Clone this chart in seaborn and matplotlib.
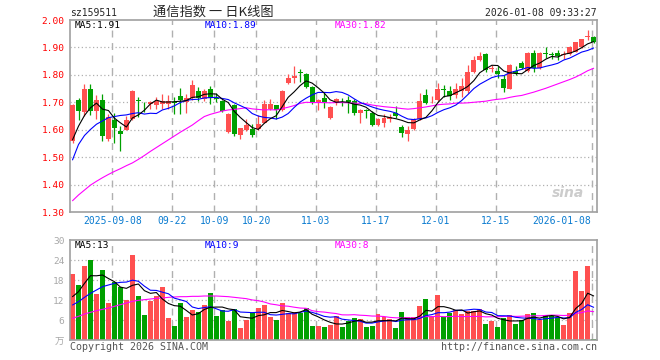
import pandas as pd
import matplotlib
matplotlib.use("Agg")
import matplotlib.pyplot as plt
import seaborn as sns

# ---------------- dados ----------------
feriados = ["2025-10-01", "2025-10-02", "2025-10-03", "2025-10-06",
            "2025-10-07", "2025-10-08", "2026-01-01", "2026-01-02"]
datas_tick = ["2025-09-08", "2025-09-22", "2025-10-09", "2025-10-20", "2025-11-03",
              "2025-11-17", "2025-12-01", "2025-12-15", "2026-01-08"]
rotulos_tick = ["2025-09-08", "09-22", "10-09", "10-20", "11-03",
                "11-17", "12-01", "12-15", "2026-01-08"]

abertura = [1.560, 1.710, 1.665, 1.748, 1.667, 1.710, 1.565, 1.636, 1.594, 1.600,
            1.640, 1.710, 1.695, 1.692, 1.690, 1.693, 1.693, 1.700, 1.723, 1.700,
            1.717, 1.741, 1.713, 1.750, 1.715, 1.705, 1.591, 1.689, 1.579, 1.600,
            1.601, 1.604, 1.626, 1.675, 1.689, 1.672, 1.772, 1.789, 1.810, 1.802,
            1.757, 1.696, 1.717, 1.644, 1.697, 1.709, 1.710, 1.703, 1.660, 1.672,
            1.662, 1.619, 1.623, 1.638, 1.662, 1.610, 1.583, 1.604, 1.638, 1.726,
            1.703, 1.708, 1.749, 1.741, 1.725, 1.740, 1.740, 1.812, 1.853, 1.875,
            1.822, 1.814, 1.786, 1.750, 1.814, 1.845, 1.814, 1.878, 1.826, 1.879,
            1.876, 1.878, 1.872, 1.875, 1.885, 1.900, 1.937, 1.939]
maxima = [1.695, 1.717, 1.766, 1.766, 1.725, 1.730, 1.656, 1.660, 1.613, 1.650,
          1.743, 1.720, 1.700, 1.705, 1.720, 1.730, 1.726, 1.720, 1.752, 1.730,
          1.782, 1.757, 1.748, 1.760, 1.733, 1.708, 1.660, 1.692, 1.607, 1.638,
          1.620, 1.652, 1.709, 1.713, 1.690, 1.745, 1.802, 1.833, 1.823, 1.808,
          1.760, 1.711, 1.733, 1.686, 1.715, 1.717, 1.724, 1.713, 1.677, 1.675,
          1.668, 1.644, 1.656, 1.656, 1.686, 1.619, 1.613, 1.644, 1.735, 1.748,
          1.722, 1.770, 1.762, 1.760, 1.770, 1.790, 1.836, 1.867, 1.882, 1.878,
          1.836, 1.833, 1.800, 1.840, 1.833, 1.850, 1.882, 1.890, 1.885, 1.902,
          1.885, 1.890, 1.888, 1.905, 1.920, 1.932, 1.964, 1.942]
minimas = [1.553, 1.635, 1.650, 1.652, 1.640, 1.558, 1.558, 1.550, 1.522, 1.598,
           1.637, 1.645, 1.665, 1.675, 1.675, 1.675, 1.675, 1.656, 1.656, 1.660,
           1.710, 1.705, 1.705, 1.694, 1.700, 1.665, 1.588, 1.577, 1.565, 1.595,
           1.574, 1.600, 1.623, 1.672, 1.638, 1.668, 1.766, 1.770, 1.774, 1.753,
           1.695, 1.672, 1.680, 1.640, 1.690, 1.686, 1.662, 1.652, 1.626, 1.644,
           1.615, 1.613, 1.610, 1.628, 1.644, 1.574, 1.559, 1.600, 1.635, 1.692,
           1.698, 1.705, 1.720, 1.710, 1.715, 1.720, 1.734, 1.808, 1.850, 1.812,
           1.810, 1.790, 1.737, 1.747, 1.800, 1.820, 1.810, 1.810, 1.820, 1.863,
           1.857, 1.853, 1.857, 1.872, 1.882, 1.897, 1.927, 1.916]
fechamento = [1.690, 1.670, 1.750, 1.667, 1.710, 1.577, 1.648, 1.606, 1.585, 1.635,
              1.740, 1.705, 1.692, 1.700, 1.705, 1.705, 1.704, 1.697, 1.708, 1.717,
              1.762, 1.717, 1.741, 1.717, 1.712, 1.668, 1.656, 1.583, 1.605, 1.616,
              1.579, 1.620, 1.693, 1.693, 1.672, 1.741, 1.790, 1.796, 1.807, 1.757,
              1.699, 1.708, 1.699, 1.683, 1.711, 1.707, 1.700, 1.662, 1.672, 1.670,
              1.619, 1.638, 1.644, 1.648, 1.650, 1.589, 1.599, 1.638, 1.705, 1.696,
              1.706, 1.750, 1.746, 1.723, 1.748, 1.760, 1.812, 1.853, 1.869, 1.817,
              1.826, 1.804, 1.753, 1.835, 1.806, 1.824, 1.878, 1.826, 1.880, 1.876,
              1.873, 1.869, 1.876, 1.900, 1.918, 1.931, 1.940, 1.918]

ma5 = [1.563, 1.613, 1.652, 1.680, 1.697, 1.675, 1.670, 1.642, 1.625, 1.610,
       1.643, 1.654, 1.671, 1.694, 1.708, 1.701, 1.701, 1.702, 1.704, 1.706,
       1.718, 1.720, 1.729, 1.731, 1.730, 1.711, 1.699, 1.667, 1.645, 1.626,
       1.608, 1.601, 1.623, 1.640, 1.651, 1.684, 1.718, 1.738, 1.761, 1.778,
       1.770, 1.753, 1.734, 1.709, 1.700, 1.702, 1.700, 1.693, 1.690, 1.682,
       1.665, 1.652, 1.649, 1.644, 1.640, 1.634, 1.626, 1.625, 1.636, 1.645,
       1.669, 1.699, 1.721, 1.724, 1.735, 1.745, 1.758, 1.779, 1.808, 1.822,
       1.835, 1.834, 1.814, 1.807, 1.805, 1.804, 1.819, 1.834, 1.843, 1.857,
       1.867, 1.865, 1.875, 1.879, 1.887, 1.899, 1.913, 1.921]
ma10 = [1.490, 1.546, 1.579, 1.601, 1.620, 1.632, 1.644, 1.648, 1.652, 1.654,
        1.659, 1.662, 1.657, 1.660, 1.659, 1.672, 1.678, 1.687, 1.699, 1.707,
        1.710, 1.711, 1.716, 1.717, 1.718, 1.714, 1.710, 1.698, 1.688, 1.678,
        1.659, 1.650, 1.645, 1.643, 1.639, 1.646, 1.659, 1.681, 1.701, 1.715,
        1.727, 1.736, 1.736, 1.735, 1.739, 1.736, 1.727, 1.713, 1.700, 1.691,
        1.683, 1.676, 1.671, 1.667, 1.661, 1.649, 1.639, 1.637, 1.640, 1.643,
        1.651, 1.663, 1.673, 1.680, 1.690, 1.707, 1.728, 1.750, 1.766, 1.778,
        1.790, 1.796, 1.797, 1.808, 1.814, 1.820, 1.827, 1.824, 1.825, 1.831,
        1.836, 1.842, 1.854, 1.861, 1.872, 1.883, 1.889, 1.898]
ma30 = [1.341, 1.362, 1.380, 1.398, 1.412, 1.425, 1.437, 1.448, 1.458, 1.469,
        1.479, 1.492, 1.506, 1.521, 1.535, 1.549, 1.563, 1.577, 1.591, 1.604,
        1.617, 1.633, 1.648, 1.656, 1.662, 1.668, 1.672, 1.674, 1.677, 1.680,
        1.676, 1.674, 1.672, 1.673, 1.672, 1.677, 1.682, 1.688, 1.696, 1.700,
        1.699, 1.699, 1.699, 1.698, 1.699, 1.699, 1.698, 1.697, 1.696, 1.695,
        1.690, 1.687, 1.684, 1.682, 1.680, 1.677, 1.675, 1.677, 1.680, 1.683,
        1.687, 1.691, 1.693, 1.694, 1.697, 1.697, 1.698, 1.700, 1.702, 1.704,
        1.708, 1.711, 1.713, 1.718, 1.722, 1.725, 1.731, 1.737, 1.744, 1.751,
        1.759, 1.767, 1.775, 1.783, 1.792, 1.803, 1.815, 1.824]

volume = [19.8, 16.5, 22.2, 24.0, 13.8, 21.0, 11.2, 17.5, 15.8, 12.0,
          25.5, 13.2, 7.5, 11.8, 13.2, 15.8, 6.5, 4.2, 11.0, 6.8,
          9.0, 8.5, 10.5, 14.2, 7.2, 9.0, 5.8, 9.2, 3.7, 6.0,
          8.0, 9.6, 10.5, 7.0, 6.0, 11.2, 8.0, 8.5, 8.2, 9.7,
          4.2, 4.2, 4.0, 4.5, 7.2, 4.0, 5.8, 6.6, 6.2, 4.0,
          4.2, 7.8, 6.8, 6.2, 3.7, 8.4, 6.8, 6.8, 10.2, 12.3,
          7.2, 13.5, 6.8, 8.0, 9.0, 7.8, 8.8, 8.8, 9.2, 4.8,
          5.8, 4.0, 6.5, 7.5, 4.8, 6.0, 7.8, 8.2, 6.0, 7.5,
          7.2, 6.5, 4.5, 8.2, 20.8, 14.8, 22.2, 0.4]
vol_ma5 = [13.0, 14.5, 17.0, 19.3, 19.26, 19.5, 18.44, 17.5, 15.86, 15.5,
           16.4, 16.8, 14.8, 14.0, 14.24, 12.3, 10.96, 10.3, 10.14, 8.86,
           7.5, 7.9, 9.16, 9.8, 9.88, 9.88, 9.34, 9.08, 6.98, 6.74,
           6.54, 7.3, 7.56, 8.22, 8.22, 8.86, 8.54, 8.14, 8.38, 9.12,
           7.72, 6.96, 6.06, 5.32, 4.82, 4.78, 5.1, 5.62, 5.96, 5.32,
           5.36, 5.76, 5.8, 5.8, 5.74, 6.58, 6.38, 6.38, 7.18, 8.9,
           8.66, 10.0, 10.0, 9.56, 8.9, 9.02, 8.08, 8.48, 8.72, 7.88,
           7.48, 6.52, 6.06, 5.72, 5.72, 5.76, 6.52, 6.86, 6.56, 7.1,
           7.34, 7.08, 6.34, 6.78, 9.44, 10.96, 14.04, 13.22]
vol_ma10 = [10.5, 11.5, 12.8, 14.0, 15.0, 16.0, 16.5, 17.0, 17.3, 17.38,
            17.95, 17.62, 16.15, 14.93, 14.87, 14.35, 13.88, 12.55, 12.07, 11.55,
            9.9, 9.43, 9.73, 9.97, 9.37, 8.69, 8.62, 9.12, 8.39, 8.31,
            8.21, 8.32, 8.32, 7.6, 7.48, 7.7, 7.92, 7.85, 8.3, 8.67,
            8.29, 7.75, 7.1, 6.85, 6.97, 6.25, 6.03, 5.84, 5.64, 5.07,
            5.07, 5.43, 5.71, 5.88, 5.53, 5.97, 6.07, 6.09, 6.49, 7.32,
            7.62, 8.19, 8.19, 8.37, 8.9, 8.84, 9.04, 9.24, 9.14, 8.39,
            8.25, 7.3, 7.27, 7.22, 6.8, 6.62, 6.52, 6.46, 6.14, 6.41,
            6.55, 6.8, 6.6, 6.67, 8.27, 9.15, 10.59, 9.81]
vol_ma30 = [6.5, 7.1, 7.8, 8.3, 8.8, 9.2, 9.6, 10.1, 10.6, 11.1,
            11.6, 11.9, 12.1, 12.3, 12.5, 12.6, 12.8, 12.9, 13.0, 13.0,
            13.1, 13.1, 13.2, 13.2, 13.2, 13.1, 13.0, 12.8, 12.6, 12.41,
            12.02, 11.79, 11.4, 10.83, 10.57, 10.25, 10.14, 9.84, 9.59, 9.51,
            8.8, 8.5, 8.38, 8.14, 7.94, 7.55, 7.52, 7.6, 7.44, 7.35,
            7.19, 7.17, 7.04, 6.78, 6.66, 6.64, 6.67, 6.59, 6.81, 7.02,
            6.99, 7.12, 7.0, 7.03, 7.13, 7.02, 7.05, 7.06, 7.09, 6.93,
            6.98, 6.97, 7.06, 7.16, 7.08, 7.14, 7.21, 7.26, 7.26, 7.37,
            7.47, 7.43, 7.35, 7.42, 7.99, 8.2, 8.72, 8.5]

# ---------------- preparação ----------------
dias = [d for d in pd.bdate_range("2025-08-28", "2026-01-08")
        if d.strftime("%Y-%m-%d") not in feriados]
df = pd.DataFrame({"data": dias, "o": abertura, "h": maxima, "l": minimas,
                   "c": fechamento, "vol": volume,
                   "ma5": ma5, "ma10": ma10, "ma30": ma30,
                   "vma5": vol_ma5, "vma10": vol_ma10, "vma30": vol_ma30})
df["i"] = range(len(df))
df["cor"] = ["#ff5050" if c >= o else "#00a000" for o, c in zip(df.o, df.c)]
df["base"] = df[["o", "c"]].min(axis=1)
df["corpo"] = (df.c - df.o).abs().clip(lower=0.003)

datas_str = df.data.dt.strftime("%Y-%m-%d").tolist()
pos_tick = [datas_str.index(d) - 0.35 for d in datas_tick]

sns.set_style("white")
plt.rcParams["font.family"] = ["DejaVu Sans Mono", "Noto Sans CJK SC"]

W, H = 660, 360
fig = plt.figure(figsize=(6.6, 3.6), dpi=100)
ax1 = fig.add_axes([70 / W, 1 - 212 / H, 527 / W, 192 / H])
ax2 = fig.add_axes([70 / W, 20 / H, 527 / W, 100 / H])

cinza = "#a0a0a0"
for ax in (ax1, ax2):
    ax.set_xlim(-0.42, 87.56)
    for s in ax.spines.values():
        s.set_color(cinza)
        s.set_linewidth(1.2)
    for x in pos_tick:
        ax.axvline(x, color="#b0b0b0", lw=1, ls=(0, (5, 4)), zorder=0)

# --------- painel de preços ---------
ax1.set_ylim(1.30, 2.00)
for y in [1.4, 1.5, 1.6, 1.7, 1.8, 1.9]:
    ax1.axhline(y, color="#b0b0b0", lw=0.9, ls=(0, (1, 2)), zorder=0)
ax1.vlines(df.i, df.l, df.h, colors=df.cor, lw=0.9, zorder=2)
ax1.bar(df.i, df.corpo, bottom=df.base, width=0.83, color=df.cor, linewidth=0, zorder=3)
sns.lineplot(x=df.i, y=df.ma30, ax=ax1, color="#ff00ff", lw=0.8, zorder=4)
sns.lineplot(x=df.i, y=df.ma10, ax=ax1, color="#0000ff", lw=0.8, zorder=5)
sns.lineplot(x=df.i, y=df.ma5, ax=ax1, color="black", lw=0.8, zorder=6)
ax1.set_yticks([1.3, 1.4, 1.5, 1.6, 1.7, 1.8, 1.9, 2.0])
ax1.set_yticklabels([f"{v:.2f}" for v in [1.3, 1.4, 1.5, 1.6, 1.7, 1.8, 1.9, 2.0]])
ax1.set_xticks(pos_tick)
ax1.set_xticklabels(rotulos_tick)
ax1.get_xticklabels()[-1].set_horizontalalignment("right")
ax1.tick_params(axis="y", length=0, pad=4, labelcolor="#ff0000", labelsize=6.8)
ax1.tick_params(axis="x", length=0, pad=3, labelcolor="#0a7bd0", labelsize=7)
ax1.set_xlabel("")
ax1.set_ylabel("")
ax1.text(0.975, 0.06, "sina", transform=ax1.transAxes, ha="right", va="bottom",
         fontsize=10, color="#cccccc", fontstyle="italic", fontweight="bold",
         family="DejaVu Sans")

# --------- painel de volume ---------
ax2.set_ylim(0, 30)
for y in [6, 12, 18, 24]:
    ax2.axhline(y, color="#b0b0b0", lw=0.9, ls=(0, (1, 2)), zorder=0)
ax2.bar(df.i, df.vol, width=0.83, color=df.cor, linewidth=0, zorder=2)
sns.lineplot(x=df.i, y=df.vma30, ax=ax2, color="#ff00ff", lw=0.8, zorder=4)
sns.lineplot(x=df.i, y=df.vma10, ax=ax2, color="#0000ff", lw=0.8, zorder=5)
sns.lineplot(x=df.i, y=df.vma5, ax=ax2, color="black", lw=0.8, zorder=6)
ax2.set_yticks([0, 6, 12, 18, 24, 30])
ax2.set_yticklabels(["万", "6", "12", "18", "24", "30"])
ax2.set_xticks([])
ax2.tick_params(axis="y", length=0, pad=4, labelcolor="#a8a8a8", labelsize=6.8)
ax2.set_xlabel("")
ax2.set_ylabel("")

# --------- textos ---------
def px(x, y):
    return x / W, 1 - y / H

fig.text(*px(70, 13), "sz159511", fontsize=7, va="center", ha="left")
fig.text(*px(213, 12), "通信指数 一 日K线图", fontsize=9.5, va="center", ha="center",
         family=["Noto Sans CJK SC", "DejaVu Sans"])
fig.text(*px(597, 13), "2026-01-08 09:33:27", fontsize=7, va="center", ha="right")

fig.text(*px(75, 26), "MA5:1.91", fontsize=6.8, va="center", color="black")
fig.text(*px(205, 26), "MA10:1.89", fontsize=6.8, va="center", color="#0000ff")
fig.text(*px(335, 26), "MA30:1.82", fontsize=6.8, va="center", color="#ff00ff")
fig.text(*px(75, 246), "MA5:13", fontsize=6.8, va="center", color="black")
fig.text(*px(205, 246), "MA10:9", fontsize=6.8, va="center", color="#0000ff")
fig.text(*px(335, 246), "MA30:8", fontsize=6.8, va="center", color="#ff00ff")

fig.text(*px(70, 347), "Copyright 2026 SINA.COM", fontsize=7.2, va="center",
         ha="left", color="#555555")
fig.text(*px(597, 347), "http://finance.sina.com.cn", fontsize=7.2, va="center",
         ha="right", color="#555555")

fig.savefig("out.png", dpi=100, facecolor="white")
plt.close(fig)
